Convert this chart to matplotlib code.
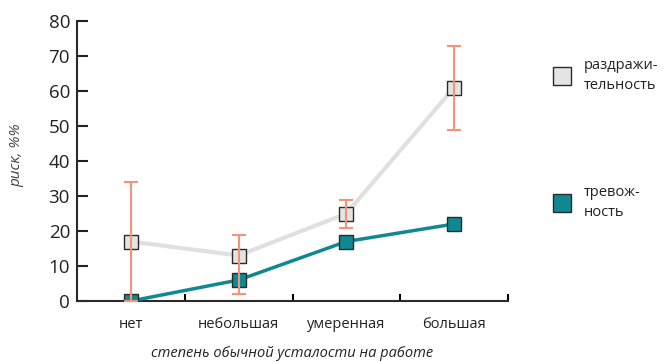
import matplotlib.pyplot as plt
from matplotlib.lines import Line2D

plt.rcParams['font.family'] = ['Open Sans', 'DejaVu Sans']

categories = ["нет", "небольшая", "умеренная", "большая"]
irritability = [17, 13, 25, 61]
irritability_low = [0, 2, 21, 49]
irritability_high = [34, 19, 29, 73]
anxiety = [0, 6, 17, 22]
series_labels = ["раздражи-\nтельность", "тревож-\nность"]
y_ticks = [0, 10, 20, 30, 40, 50, 60, 70, 80]

grey_line = "#e0e0e0"
grey_fill = "#e4e4e4"
teal = "#0f8891"
err_col = "#f5937a"
edge = "#2a2a2a"
text_col = "#222222"

fig = plt.figure(figsize=(6.68, 3.62), dpi=100)
ax = fig.add_axes([77 / 668, 61 / 362, 431 / 668, 280 / 362])

x = list(range(len(categories)))

ax.plot(x, irritability, color=grey_line, lw=3, zorder=2,
        marker="s", ms=10, mfc=grey_fill, mec=edge, mew=1)
ax.plot(x, anxiety, color=teal, lw=2.5, zorder=3,
        marker="s", ms=10, mfc=teal, mec=edge, mew=1)

yerr = [[v - lo for v, lo in zip(irritability, irritability_low)],
        [hi - v for v, hi in zip(irritability, irritability_high)]]
ax.errorbar(x, irritability, yerr=yerr, fmt="none", ecolor=err_col,
            elinewidth=1.5, capsize=5, capthick=1.5, zorder=4)

ax.set_xlim(-0.5, 3.5)
ax.set_ylim(0, 80)
ax.set_yticks(y_ticks)
ax.set_xticks([i + 0.5 for i in x])
ax.set_xticklabels([])
for i, c in enumerate(categories):
    ax.text(i, -4.6, c, ha="center", va="top", fontsize=10.5, color=text_col)

ax.tick_params(axis="y", direction="in", length=8, width=1.5,
               labelsize=13.5, pad=5, colors=text_col)
ax.tick_params(axis="x", direction="in", length=5, width=1.5)
for s in ["top", "right"]:
    ax.spines[s].set_visible(False)
for s in ["left", "bottom"]:
    ax.spines[s].set_linewidth(1.5)
    ax.spines[s].set_color(edge)

ax.set_ylabel("риск, %%", fontsize=11, style="italic", color="#444444")
ax.yaxis.set_label_coords(-0.122, 0.52)
ax.set_xlabel("степень обычной усталости на работе", fontsize=10.5,
              style="italic", color=text_col)
ax.xaxis.set_label_coords(0.5, -0.16)
ax.xaxis.label.set_va("top")

handles = [
    Line2D([], [], ls="none", marker="s", ms=13, mfc=grey_fill, mec=edge, mew=1),
    Line2D([], [], ls="none", marker="s", ms=13, mfc=teal, mec=edge, mew=1),
]
leg = fig.legend(handles, series_labels, loc="upper left",
                 bbox_to_anchor=(546 / 668, 1 - 51 / 362), frameon=False,
                 fontsize=10.5, labelcolor=text_col, labelspacing=6.3,
                 handlelength=1.2, handletextpad=0.9, borderpad=0)
for t in leg.get_texts():
    t.set_linespacing(1.45)

fig.savefig("out.png", dpi=100)
